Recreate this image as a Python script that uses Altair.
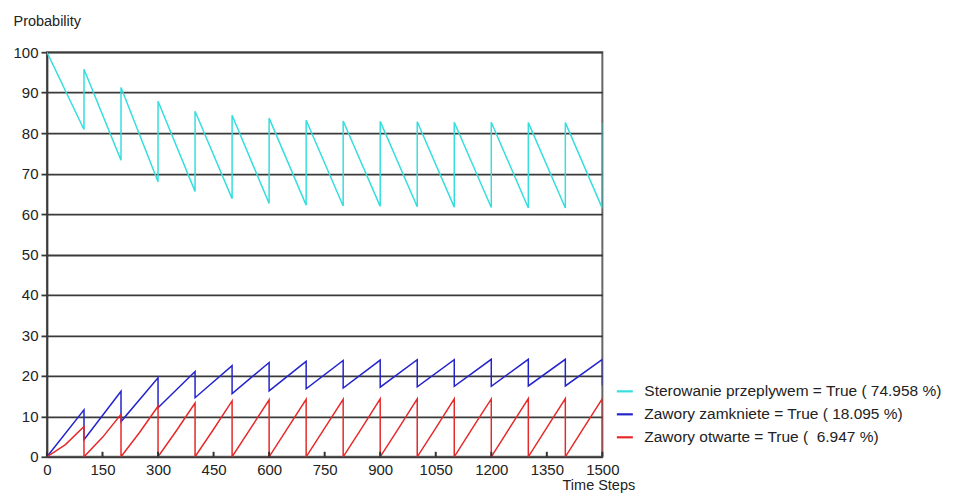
import altair as alt
import pandas as pd

# --- data (sawtooth, one segment per 100 time steps) ---
period_start = [0, 100, 200, 300, 400, 500, 600, 700, 800, 900, 1000, 1100, 1200, 1300, 1400]
period_end = [100, 200, 300, 400, 500, 600, 700, 800, 900, 1000, 1100, 1200, 1300, 1400, 1500]

cyan_start = [100, 95.8, 91.3, 87.9, 85.4, 84.4, 83.7, 83.2, 83.0, 82.9, 82.8, 82.7, 82.7, 82.6, 82.6]
cyan_end = [80.9, 73.3, 68.0, 65.6, 63.8, 62.6, 62.2, 62.0, 61.9, 61.8, 61.7, 61.6, 61.5, 61.5, 61.4]
cyan_final = 82.5

blue_start = [0, 4.2, 8.7, 12.1, 14.6, 15.6, 16.3, 16.8, 17.0, 17.2, 17.3, 17.4, 17.4, 17.5, 17.5]
blue_end = [11.6, 16.2, 19.5, 21.1, 22.5, 23.3, 23.6, 23.8, 23.9, 24.0, 24.0, 24.1, 24.1, 24.1, 24.1]
blue_final = 17.6

red_start = [0, 0, 0, 0, 0, 0, 0, 0, 0, 0, 0, 0, 0, 0, 0]
red_mid = [3.0, 4.8, 6.0, 6.5, 6.8, 7.0, 7.1, 7.1, 7.1, 7.1, 7.1, 7.2, 7.2, 7.2, 7.2]
red_end = [7.5, 10.5, 12.5, 13.3, 13.8, 14.1, 14.2, 14.2, 14.3, 14.3, 14.3, 14.3, 14.4, 14.4, 14.4]
red_final = 0

series_names = [
    "Sterowanie przeplywem = True ( 74.958 %)",
    "Zawory zamkniete = True ( 18.095 %)",
    "Zawory otwarte = True ( \u00a06.947 %)",
]
series_colors = ["#36dede", "#2424cc", "#e62a2a"]

x_ticks = [0, 150, 300, 450, 600, 750, 900, 1050, 1200, 1350, 1500]
y_ticks = [0, 10, 20, 30, 40, 50, 60, 70, 80, 90, 100]

rows = []


def add(name, t, v):
    rows.append({"series": name, "t": t, "v": v, "order": len(rows)})


for i in range(len(period_start)):
    add(series_names[0], period_start[i], cyan_start[i])
    add(series_names[0], period_end[i], cyan_end[i])
add(series_names[0], period_end[-1], cyan_final)

for i in range(len(period_start)):
    add(series_names[1], period_start[i], blue_start[i])
    add(series_names[1], period_end[i], blue_end[i])
add(series_names[1], period_end[-1], blue_final)

for i in range(len(period_start)):
    add(series_names[2], period_start[i], red_start[i])
    add(series_names[2], (period_start[i] + period_end[i]) / 2, red_mid[i])
    add(series_names[2], period_end[i], red_end[i])
add(series_names[2], period_end[-1], red_final)

df = pd.DataFrame(rows)
ticks_df = pd.DataFrame({"t": x_ticks})

W, H = 556, 405
FONT = "Liberation Sans"

lines = alt.Chart(df).mark_line(strokeWidth=1.5, clip=True).encode(
    x=alt.X(
        "t:Q",
        scale=alt.Scale(domain=[0, 1500], nice=False, zero=False),
        axis=alt.Axis(
            values=x_ticks,
            format="d",
            title="Time Steps",
            titleAngle=0,
            titleX=552,
            titleY=33,
            titleAlign="center",
            titleBaseline="alphabetic",
            ticks=False,
            grid=False,
            domain=False,
            labelPadding=6,
            labelFlush=False,
        ),
    ),
    y=alt.Y(
        "v:Q",
        scale=alt.Scale(domain=[0, 100], nice=False),
        axis=alt.Axis(
            values=y_ticks,
            format="d",
            title="Probability",
            titleAngle=0,
            titleX=-34,
            titleY=-27,
            titleAlign="left",
            titleBaseline="alphabetic",
            tickSize=6,
            labelPadding=3,
            grid=True,
        ),
    ),
    color=alt.Color(
        "series:N",
        scale=alt.Scale(domain=series_names, range=series_colors),
        sort=series_names,
        legend=alt.Legend(
            title=None,
            orient="none",
            legendX=569,
            legendY=330,
            symbolType="stroke",
            symbolSize=256,
            symbolStrokeWidth=2.2,
            labelFontSize=15.5,
            labelFont=FONT,
            labelColor="#222",
            labelOffset=10,
            rowPadding=5,
            labelLimit=400,
        ),
    ),
    order="order:Q",
)

inner_ticks = alt.Chart(ticks_df).mark_rule(color="#333", strokeWidth=2).encode(
    x="t:Q",
    y=alt.value(H),
    y2=alt.value(H - 5),
)

chart = (
    alt.layer(lines, inner_ticks)
    .properties(
        width=W,
        height=H,
        autosize=alt.AutoSizeParams(type="none"),
        padding={"left": 39, "top": 44, "right": 345, "bottom": 38},
        background="white",
    )
    .configure_view(stroke="#666", strokeWidth=2)
    .configure_axis(
        labelFont=FONT,
        titleFont=FONT,
        labelFontSize=15,
        titleFontSize=14.5,
        titleFontWeight="normal",
        labelColor="#222",
        titleColor="#222",
        gridColor="#3a3a3a",
        gridWidth=1.8,
        gridOpacity=1,
        tickColor="#3a3a3a",
        tickWidth=1.8,
        domainColor="#3a3a3a",
        domainWidth=1.8,
    )
)

chart.save("out.html", embed_options={"renderer": "svg", "actions": False})
